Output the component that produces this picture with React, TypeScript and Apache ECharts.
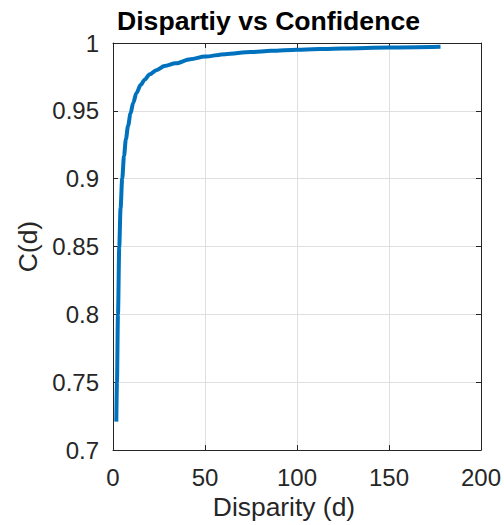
import React, { useEffect, useRef } from "react";
import * as echarts from "echarts";

const disparity = [1.8, 2.15, 2.7, 3.4, 4.1, 5, 6, 7, 8.2, 9.5, 11, 12.7, 15, 17.2, 20, 23.5, 28, 34, 42, 50, 61, 75, 86, 100, 125, 150, 178];
const confidence = [0.721, 0.75, 0.8, 0.85, 0.878, 0.9, 0.917, 0.929, 0.939, 0.948, 0.956, 0.963, 0.969, 0.973, 0.977, 0.98, 0.983, 0.985, 0.988, 0.99, 0.9918, 0.9933, 0.9942, 0.995, 0.996, 0.9967, 0.9972];

const titleText = "Dispartiy vs Confidence";
const xName = "Disparity (d)";
const yName = "C(d)";

const FONT = "'Liberation Sans', Arial, Helvetica, sans-serif";
const AX = "#262626";
const GRID = "#dfdfdf";

export default function App() {
  const ref = useRef<HTMLDivElement>(null);
  useEffect(() => {
    if (!ref.current) return;
    const chart = echarts.init(ref.current, undefined, { renderer: "svg" });
    const data = disparity.map((d, i) => [d, confidence[i]]);
    const axisCommon = {
      axisLine: { show: true, onZero: false, lineStyle: { color: AX, width: 1 } },
      axisTick: { show: true, inside: true, length: 5, lineStyle: { color: AX } },
    };
    chart.setOption({
      animation: false,
      backgroundColor: "#ffffff",
      title: {
        text: titleText,
        left: 117,
        top: 7,
        padding: 0,
        textStyle: { fontFamily: FONT, fontSize: 26.6, fontWeight: "bold", color: "#000000" },
      },
      grid: { left: 113, right: 19, top: 43, bottom: 72, containLabel: false },
      xAxis: [
        {
          type: "value",
          min: 0,
          max: 200,
          interval: 50,
          position: "bottom",
          name: xName,
          nameLocation: "middle",
          nameGap: 43,
          nameTextStyle: { fontFamily: FONT, fontSize: 26.4, color: AX, padding: [0, 26, 0, 0] },
          ...axisCommon,
          axisLabel: { margin: 15, fontFamily: FONT, fontSize: 24, color: AX },
          splitLine: { show: true, lineStyle: { color: GRID, width: 1 } },
        },
        {
          type: "value",
          min: 0,
          max: 200,
          interval: 50,
          position: "top",
          ...axisCommon,
          axisLabel: { show: false },
          splitLine: { show: false },
        },
      ],
      yAxis: [
        {
          type: "value",
          min: 0.7,
          max: 1,
          interval: 0.05,
          position: "left",
          name: yName,
          nameLocation: "middle",
          nameGap: 71,
          nameTextStyle: { fontFamily: FONT, fontSize: 26.4, color: AX },
          ...axisCommon,
          axisLabel: { margin: 14, fontFamily: FONT, fontSize: 24, color: AX },
          splitLine: { show: true, lineStyle: { color: GRID, width: 1 } },
        },
        {
          type: "value",
          min: 0.7,
          max: 1,
          interval: 0.05,
          position: "right",
          ...axisCommon,
          axisLabel: { show: false },
          splitLine: { show: false },
        },
      ],
      series: [
        {
          type: "line",
          data,
          xAxisIndex: 0,
          yAxisIndex: 0,
          showSymbol: false,
          symbol: "none",
          smooth: 0.3,
          smoothMonotone: "x",
          lineStyle: { color: "#0072BD", width: 4, cap: "butt", join: "round" },
          z: 3,
        },
      ],
    });
    return () => chart.dispose();
  }, []);
  return (
    <div
      ref={ref}
      style={{ position: "absolute", left: 0, top: 0, width: 504, height: 525 }}
    />
  );
}
